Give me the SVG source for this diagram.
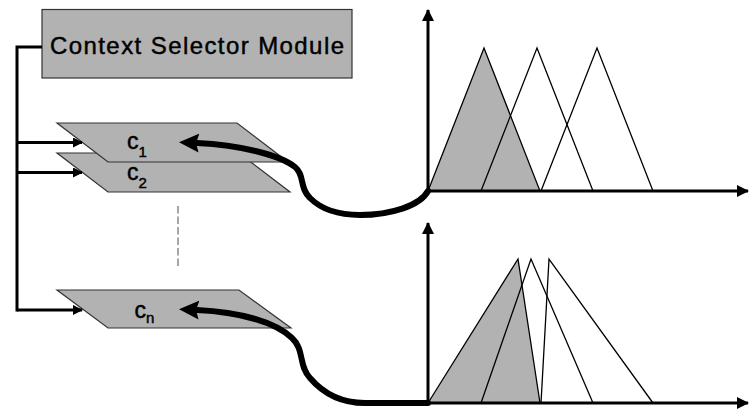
<svg xmlns="http://www.w3.org/2000/svg" width="749" height="412" viewBox="0 0 749 412">
<style>
.shape{fill:#b2b2b2;stroke:#333;stroke-width:1.2}
.lbl{font-family:"Liberation Sans",Arial,sans-serif;fill:#000;stroke:#000;stroke-width:0.45}
.bus{fill:none;stroke:#000;stroke-width:3}
.curve{fill:none;stroke:#000;stroke-width:6;stroke-linecap:round}
.axis{fill:none;stroke:#000;stroke-width:3}
.tri{fill:none;stroke:#000;stroke-width:1.3;stroke-linejoin:miter}
.tri.sel{fill:#b2b2b2}
.dash{stroke:#a6a6a6;stroke-width:2;stroke-dasharray:7.5 3}
</style>
<defs>
<marker id="busHead" markerUnits="userSpaceOnUse" viewBox="0 0 10 10" markerWidth="10" markerHeight="10" refX="9" refY="5" orient="auto">
<path d="M0,0 L10,5 L0,10 z" fill="#000"/>
</marker>
<marker id="axisHead" markerUnits="userSpaceOnUse" viewBox="0 0 12 12" markerWidth="12" markerHeight="12" refX="11" refY="6" orient="auto">
<path d="M0,0 L12,6 L0,12 z" fill="#000"/>
</marker>
<marker id="bigHead" markerUnits="userSpaceOnUse" viewBox="0 0 20 20" markerWidth="20" markerHeight="20" refX="2" refY="10" orient="auto-start-reverse">
<path d="M0,0.5 L20,10 L0,19.5 L3,10 z" fill="#000"/>
</marker>
</defs>

<g id="chart-top">
<polygon class="tri sel" points="428,191 484,48 540,191"/>
<polyline class="tri" points="481,191 537,48 593,191"/>
<polyline class="tri" points="541,191 597,48 653,191"/>
<line class="axis" x1="428" y1="192.5" x2="428" y2="10" marker-end="url(#axisHead)"/>
<line class="axis" x1="426.5" y1="191" x2="748" y2="191" marker-end="url(#axisHead)"/>
</g>

<g id="chart-bottom">
<polygon class="tri sel" points="428,403 518,259 540,403"/>
<polyline class="tri" points="481,403 531,259 593,403"/>
<polyline class="tri" points="541,403 549,259 653,403"/>
<line class="axis" x1="428" y1="404.5" x2="428" y2="223" marker-end="url(#axisHead)"/>
<line class="axis" x1="426.5" y1="403" x2="748" y2="403" marker-end="url(#axisHead)"/>
</g>

<g id="context-selector">
<rect class="shape" x="42" y="9.5" width="310" height="68.5"/>
<text class="lbl" x="197" y="53.5" font-size="24" text-anchor="middle" textLength="294" lengthAdjust="spacing">Context Selector Module</text>
</g>

<g id="c2">
<polygon class="shape" points="57,153 239,153 290,192 108,192"/>
<text class="lbl" x="127" y="180" font-size="23">c<tspan font-size="15" dy="8.3">2</tspan></text>
</g>

<g id="c1">
<polygon class="shape" points="57,123 237,123 288,162 108,162"/>
<text class="lbl" x="127" y="149.3" font-size="23">c<tspan font-size="15" dy="8">1</tspan></text>
</g>

<g id="cn">
<polygon class="shape" points="57,290 239,290 291,328 108,328"/>
<text class="lbl" x="134.5" y="317.7" font-size="23">c<tspan font-size="15" dy="5.6">n</tspan></text>
</g>

<line id="ellipsis" class="dash" x1="178" y1="206" x2="178" y2="268"/>

<g id="connectors">
<polyline class="bus" points="42,47 17,47 17,311.5"/>
<line class="bus" x1="17" y1="142.5" x2="82" y2="142.5" marker-end="url(#busHead)"/>
<line class="bus" x1="17" y1="172.5" x2="82" y2="172.5" marker-end="url(#busHead)"/>
<line class="bus" x1="17" y1="310" x2="82" y2="310" marker-end="url(#busHead)"/>
<path class="curve" d="M197,143 C240,145 280,155 295,167 C305,175 299,188 310,198 C322,210 340,215 360,215 C390,215 420,206 428,191" marker-start="url(#bigHead)"/>
<path class="curve" d="M197,310 C240,312 275,322 292,338 C305,350 298,365 310,378 C322,392 340,403 365,403 L428,403" marker-start="url(#bigHead)"/>
</g>
</svg>
